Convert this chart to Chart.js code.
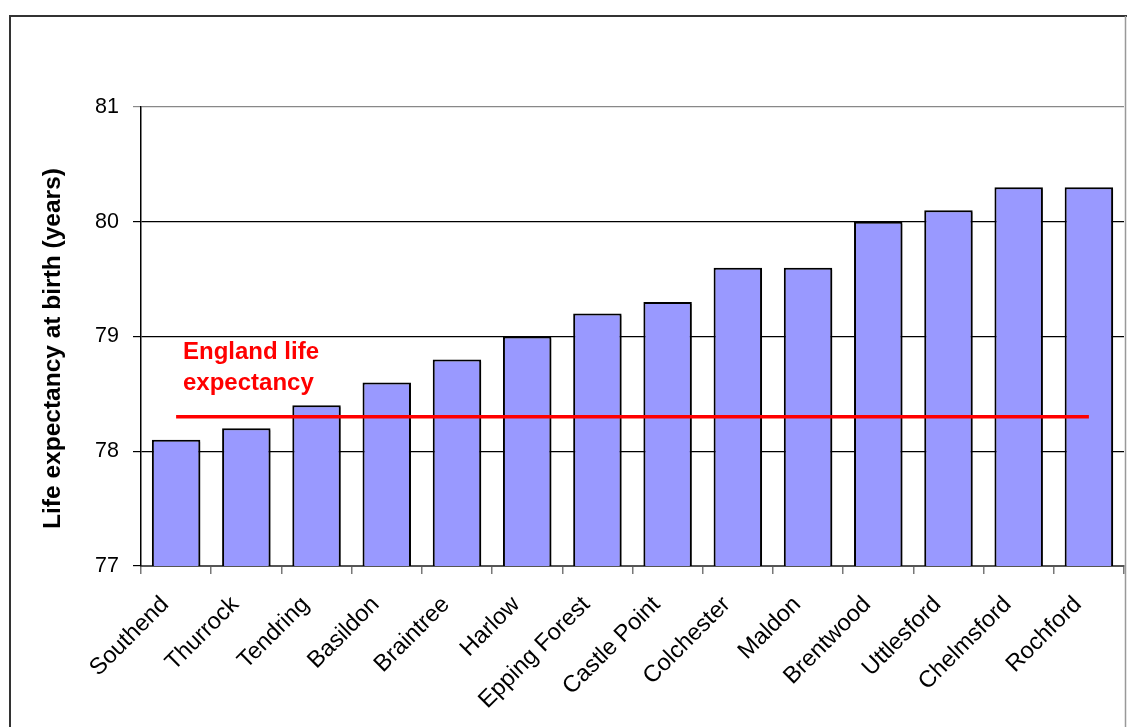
<!DOCTYPE html>
<html>
<head>
<meta charset="utf-8">
<script src="https://cdn.jsdelivr.net/npm/chart.js@4/dist/chart.umd.min.js"></script>
<style>
  html, body { margin: 0; padding: 0; background: #fff; }
  #wrap { position: relative; width: 1127px; height: 727px; }
  canvas { display: block; }
</style>
</head>
<body>
<div id="wrap"><canvas id="c" width="1127" height="727"></canvas></div>
<script>
// Essex districts, life expectancy at birth (years)
const districts = ['Southend', 'Thurrock', 'Tendring', 'Basildon', 'Braintree', 'Harlow',
  'Epping Forest', 'Castle Point', 'Colchester', 'Maldon', 'Brentwood', 'Uttlesford',
  'Chelmsford', 'Rochford'];
const lifeExpectancy = [78.1, 78.2, 78.4, 78.6, 78.8, 79.0, 79.2, 79.3, 79.6, 79.6, 80.0, 80.1, 80.3, 80.3];
const englandValue = 78.3;
const englandLabel = ['England life', 'expectancy'];
const yTicks = [77, 78, 79, 80, 81];
const yTitle = 'Life expectancy at birth (years)';

const FONT = "'Liberation Sans', Arial, sans-serif";

// outer frame, y-axis title and the England annotation
const decor = {
  id: 'decor',
  beforeDraw(chart) {
    const ctx = chart.ctx;
    ctx.save();
    ctx.fillStyle = '#fff';
    ctx.fillRect(0, 0, chart.width, chart.height);
    ctx.strokeStyle = '#333';
    ctx.lineWidth = 2;
    ctx.beginPath();
    ctx.moveTo(10, 727);
    ctx.lineTo(10, 16);
    ctx.lineTo(1127, 16);
    ctx.stroke();
    ctx.strokeStyle = '#999';
    ctx.lineWidth = 1.5;
    ctx.beginPath();
    ctx.moveTo(1125.5, 16);
    ctx.lineTo(1125.5, 727);
    ctx.stroke();
    ctx.restore();
  },
  afterDraw(chart) {
    const ctx = chart.ctx;
    const area = chart.chartArea;
    ctx.save();
    ctx.fillStyle = '#000';
    ctx.font = 'bold 24.5px ' + FONT;
    ctx.textAlign = 'center';
    ctx.textBaseline = 'middle';
    ctx.translate(53, (area.top + area.bottom) / 2 + 12);
    ctx.rotate(-Math.PI / 2);
    ctx.fillText(yTitle, 0, 0);
    ctx.restore();

    const y = chart.scales.y;
    ctx.save();
    ctx.fillStyle = '#FF0000';
    ctx.font = 'bold 24px ' + FONT;
    ctx.textAlign = 'left';
    ctx.textBaseline = 'alphabetic';
    const top = y.getPixelForValue(englandValue);
    ctx.fillText(englandLabel[0], 183, top - 58);
    ctx.fillText(englandLabel[1], 183, top - 27);
    ctx.restore();
  }
};

// soft grey drop shadow behind the bars
const barShadow = {
  id: 'barShadow',
  beforeDatasetDraw(chart, args) {
    if (args.meta.type !== 'bar') return;
    const ctx = chart.ctx;
    ctx.save();
    ctx.shadowColor = 'rgba(0,0,0,0.35)';
    ctx.shadowOffsetX = 2;
    ctx.shadowOffsetY = 2;
    ctx.shadowBlur = 0;
  },
  afterDatasetDraw(chart, args) {
    if (args.meta.type !== 'bar') return;
    chart.ctx.restore();
  }
};

new Chart(document.getElementById('c'), {
  data: {
    labels: districts,
    datasets: [
      {
        type: 'line',
        data: districts.map(() => englandValue),
        borderColor: '#FF0000',
        borderWidth: 3.5,
        pointRadius: 0,
        fill: false,
        order: 0
      },
      {
        type: 'bar',
        data: lifeExpectancy,
        backgroundColor: '#9999FF',
        borderColor: '#000',
        borderWidth: 2,
        borderSkipped: false,
        barPercentage: 0.69,
        categoryPercentage: 1,
        order: 1
      }
    ]
  },
  options: {
    responsive: false,
    animation: false,
    layout: { padding: { top: 107, right: 3, left: 0, bottom: 0 } },
    plugins: { legend: { display: false }, tooltip: { enabled: false }, title: { display: false } },
    scales: {
      x: {
        offset: true,
        afterFit(s) { s.height = 161; },
        border: { display: true, color: '#555', width: 2 },
        grid: { offset: true, drawOnChartArea: false, drawTicks: true, tickLength: 8, color: '#777', lineWidth: 1.5 },
        ticks: {
          color: '#000',
          font: { family: FONT, size: 23.5 },
          minRotation: 45, maxRotation: 45,
          autoSkip: false,
          padding: 17,
          labelOffset: -11
        }
      },
      y: {
        min: 77, max: 81,
        afterFit(s) { s.width = 141; },
        afterBuildTicks(s) { s.ticks = yTicks.map(v => ({ value: v })); },
        border: { display: true, color: '#000', width: 1.5 },
        grid: {
          color: (c) => (c.tick && c.tick.value === 81 ? '#888' : '#000'),
          lineWidth: 1.2,
          tickLength: 8,
          drawTicks: true
        },
        ticks: {
          color: '#000',
          font: { family: FONT, size: 21.5 },
          padding: 14,
          callback: (v) => String(v)
        }
      }
    }
  },
  plugins: [decor, barShadow]
});
</script>
</body>
</html>
